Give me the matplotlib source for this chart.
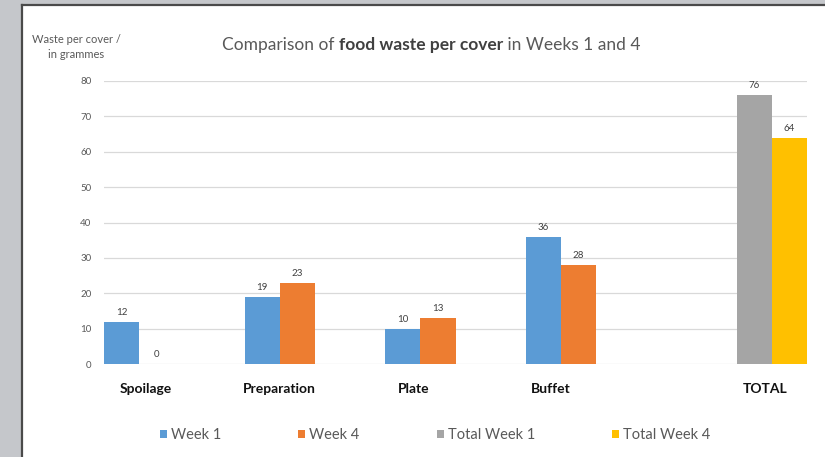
"""Food waste per cover, Weeks 1 and 4 (Excel-style clustered bars)."""
import matplotlib
matplotlib.use("Agg")
import matplotlib.pyplot as plt
from matplotlib.patches import Rectangle
from matplotlib.lines import Line2D

categories = ["Spoilage", "Preparation", "Plate", "Buffet", "TOTAL"]
week1 = [12, 19, 10, 36]
week4 = [0, 23, 13, 28]
total_week1 = [76]
total_week4 = [64]
series_names = ["Week 1", "Week 4", "Total Week 1", "Total Week 4"]
yticks = [0, 10, 20, 30, 40, 50, 60, 70, 80]

colors = ["#5B9BD5", "#ED7D31", "#A5A5A5", "#FFC000"]
plt.rcParams["font.family"] = ["Lato", "DejaVu Sans"]

W, H = 825, 457
fig = plt.figure(figsize=(W / 100, H / 100), dpi=100)

# window frame (left and top grey strips of the screenshot)
fig.add_artist(Rectangle((0, 0), 21 / W, 1, transform=fig.transFigure,
                         facecolor="#c5c7cb", edgecolor="none"))
fig.add_artist(Rectangle((0, 1 - 4 / H), 1, 4 / H, transform=fig.transFigure,
                         facecolor="#c5c7cb", edgecolor="none"))
fig.add_artist(Line2D([22 / W, 22 / W], [0, 1 - 5 / H], transform=fig.transFigure,
                      color="#4a4a4a", linewidth=1.6))
fig.add_artist(Line2D([22 / W, 1], [1 - 5 / H, 1 - 5 / H], transform=fig.transFigure,
                      color="#4a4a4a", linewidth=1.6))

ax = fig.add_axes([104 / W, (H - 364) / H, 703 / W, 283 / H])

# each category holds four slots, one per series
slots = 4
x_w1 = [slots * i + 0.5 for i in range(len(week1))]
x_w4 = [slots * i + 1.5 for i in range(len(week4))]
x_t1 = [slots * 4 + 2.5]
x_t4 = [slots * 4 + 3.5]

bars = []
for xs, vals, c, name in [(x_w1, week1, colors[0], series_names[0]),
                          (x_w4, week4, colors[1], series_names[1]),
                          (x_t1, total_week1, colors[2], series_names[2]),
                          (x_t4, total_week4, colors[3], series_names[3])]:
    b = ax.bar(xs, vals, width=1.0, color=c, label=name, zorder=3)
    ax.bar_label(b, padding=3.5, fontsize=7, color="#404040")
    bars.append(b)

ax.set_xlim(0, slots * len(categories))
ax.set_ylim(0, 80)
ax.set_yticks(yticks)
ax.tick_params(axis="y", length=0, pad=9, labelsize=7, labelcolor="#595959")
ax.yaxis.grid(True, color="#d9d9d9", linewidth=0.9, zorder=0)
for s in ax.spines.values():
    s.set_visible(False)

label_pos = [1.2, 5.0, 8.8, 12.7, 18.8]
ax.set_xticks(label_pos, categories)
ax.tick_params(axis="x", length=0, pad=14, labelsize=10)
for t in ax.get_xticklabels():
    t.set_fontweight("bold")
    t.set_color("#111111")

# title with a bold middle part
t1 = fig.text(222 / W, 1 - 45 / H, "Comparison of ", fontsize=12.5,
              color="#595959", va="center", ha="left")
t2 = ax.annotate("food waste per cover", xy=(1, 0), xycoords=t1, va="bottom",
                 ha="left", fontsize=12.5, fontweight="bold", color="#404040",
                 annotation_clip=False)
ax.annotate(" in Weeks 1 and 4", xy=(1, 0), xycoords=t2, va="bottom", ha="left",
            fontsize=12.5, color="#595959", annotation_clip=False)

fig.text(76 / W, 1 - 47 / H, "Waste per cover /\nin grammes", fontsize=8,
         color="#595959", ha="center", va="center", linespacing=1.5)

fig.legend(handles=bars, labels=series_names, loc="center",
           bbox_to_anchor=(435 / W, 1 - 435 / H), ncol=4, frameon=False,
           fontsize=10.5, labelcolor="#595959", handlelength=0.5, handleheight=0.5,
           handletextpad=0.25, columnspacing=5.3)

fig.savefig("out.png", dpi=100, facecolor="white")
